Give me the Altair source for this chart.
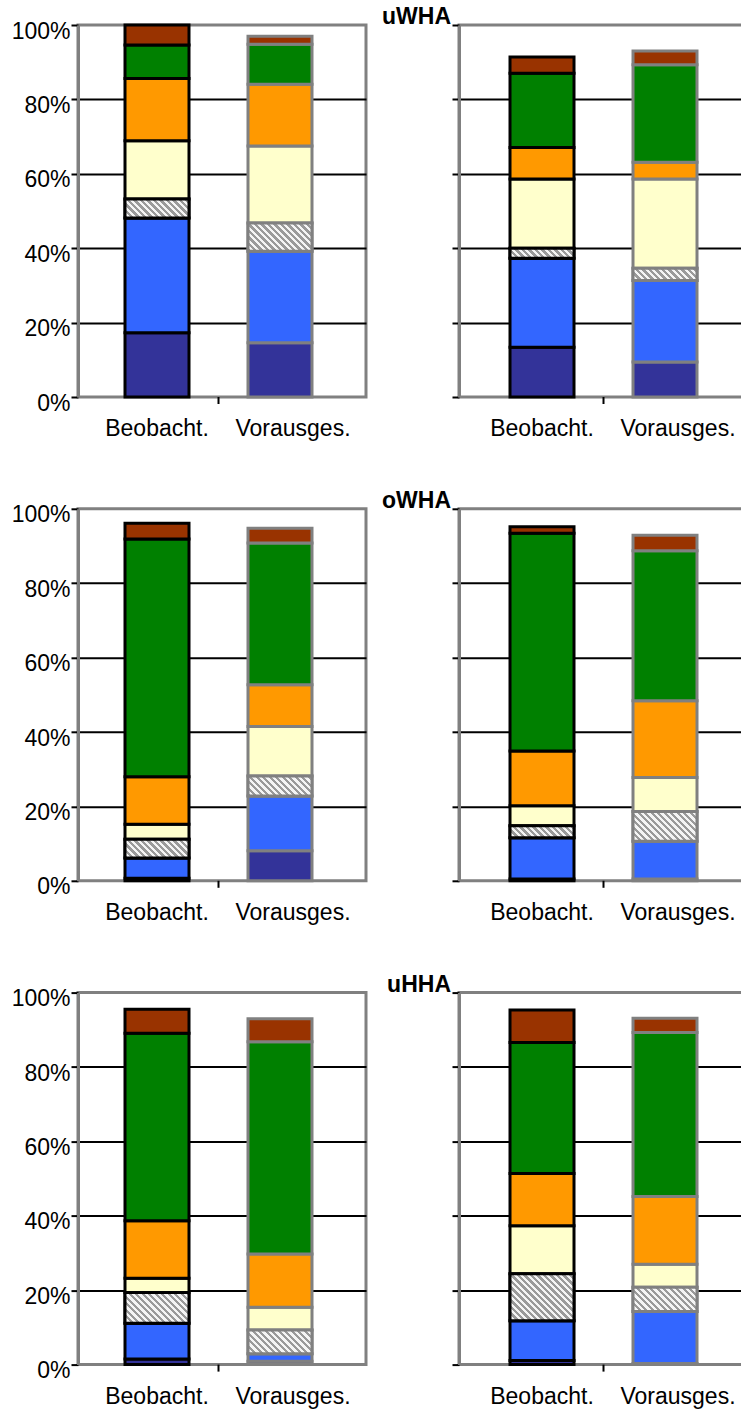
import altair as alt
import pandas as pd

# Stacked shares (percent), listed bottom -> top for each column.
CATEGORIES = ["Beobacht.", "Vorausges."]
CLASSES = ["k1", "k2", "k3", "k4", "k5", "k6", "k7"]
CLASS_COLORS = ["#333399", "#3366FF", "#B8B8B8", "#FFFFCC", "#FF9900", "#008000", "#993300"]
HATCHED_INDEX = 2
GROUP_TITLES = ["uWHA", "oWHA", "uHHA"]
Y_TICKS = [0, 20, 40, 60, 80, 100]

uwha_left_beo = [17.3, 30.8, 5.1, 15.7, 16.7, 9.0, 5.4]
uwha_left_vor = [14.6, 24.6, 7.6, 20.7, 16.6, 10.7, 2.2]
uwha_right_beo = [13.4, 23.9, 2.7, 18.6, 8.5, 19.9, 4.4]
uwha_right_vor = [9.4, 21.9, 3.3, 24.0, 4.5, 26.2, 3.7]

owha_left_beo = [0.7, 5.4, 5.1, 4.0, 12.8, 63.9, 4.2]
owha_left_vor = [8.1, 14.7, 5.4, 13.3, 11.2, 38.1, 4.0]
owha_right_beo = [0.5, 11.1, 3.2, 5.4, 14.7, 58.5, 1.8]
owha_right_vor = [0.5, 10.1, 8.0, 9.2, 20.6, 40.3, 4.2]

uhha_left_beo = [1.5, 9.6, 8.3, 3.8, 15.5, 50.4, 6.4]
uhha_left_vor = [0.9, 2.0, 6.4, 6.1, 14.3, 57.1, 6.2]
uhha_right_beo = [1.1, 10.7, 12.6, 12.9, 14.1, 35.2, 8.7]
uhha_right_vor = [0.3, 14.0, 6.5, 6.2, 18.2, 44.1, 3.8]

PANELS = [
    [(uwha_left_beo, uwha_left_vor), (uwha_right_beo, uwha_right_vor)],
    [(owha_left_beo, owha_left_vor), (owha_right_beo, owha_right_vor)],
    [(uhha_left_beo, uhha_left_vor), (uhha_right_beo, uhha_right_vor)],
]

PLOT_W = 288
PLOT_H = 372
BAR_W = 64
FRAME = "#808080"
FONT = "Liberation Sans"
BAR_STROKES = ["black", FRAME]
BAND_ALIGN = [0.4167, 0.512]
LABEL_SHIFT = [0, 13]


def hatch_gradient(h, w=BAR_W, period=6.5, dark="#9a9a9a", light="#f4f4f4"):
    """Diagonal stripes built from a bounding-box linear gradient."""
    span = w + h
    s = span / (w * w + h * h)
    stops = []
    pos = 0.0
    while pos < span:
        a = pos / span
        b = min((pos + period / 2) / span, 1.0)
        c = min((pos + period) / span, 1.0)
        stops += [
            {"offset": a, "color": dark},
            {"offset": b, "color": dark},
            {"offset": b, "color": light},
            {"offset": c, "color": light},
        ]
        pos += period
    return {"gradient": "linear", "x1": 0, "y1": 1, "x2": w * s, "y2": 1 - h * s, "stops": stops}


def panel(r, c):
    columns = PANELS[r][c]
    rows = []
    for cat, vals in zip(CATEGORIES, columns):
        for i, (cls, v) in enumerate(zip(CLASSES, vals)):
            rows.append({"cat": cat, "cls": cls, "idx": i, "value": v})
    df = pd.DataFrame(rows)

    xs = alt.Scale(domain=CATEGORIES, paddingInner=0, paddingOuter=0.17073, align=BAND_ALIGN[c])
    x_axis = alt.Axis(
        title=None, labels=False, ticks=False, domain=True,
        domainColor=FRAME, domainWidth=3,
    )
    y_axis = alt.Axis(
        title=None, values=Y_TICKS, labels=(c == 0), labelExpr="datum.value + '%'",
        labelFont=FONT, labelFontSize=23, labelColor="black", labelPadding=1,
        labelBaseline="middle", labelOffset=6,
        ticks=True, tickColor="black", tickWidth=2, tickSize=7,
        domain=True, domainColor=FRAME, domainWidth=3,
        grid=True, gridColor="black", gridWidth=2,
        gridOpacity={"condition": {"test": "datum.value == 0 || datum.value == 100", "value": 0}, "value": 1},
    )
    x = alt.X("cat:N", scale=xs, axis=x_axis, sort=CATEGORIES)
    y = alt.Y("v0:Q", scale=alt.Scale(domain=[0, 100], nice=False, zero=True), axis=y_axis)

    base = alt.Chart(df).transform_stack(
        stack="value", groupby=["cat"], as_=["v0", "v1"],
        sort=[alt.SortField("idx", order="ascending")],
    )
    bars = base.mark_bar(width=BAR_W, strokeWidth=3).encode(
        x=x, y=y, y2="v1:Q",
        fill=alt.Fill("cls:N", scale=alt.Scale(domain=CLASSES, range=CLASS_COLORS), legend=None),
        stroke=alt.Stroke("cat:N", scale=alt.Scale(domain=CATEGORIES, range=BAR_STROKES), legend=None),
    )
    layers = [bars]

    hatched = CLASSES[HATCHED_INDEX]
    for cat, vals, stroke in zip(CATEGORIES, columns, BAR_STROKES):
        h = vals[HATCHED_INDEX] * PLOT_H / 100.0
        layers.append(
            base.transform_filter(f"datum.cls == '{hatched}' && datum.cat == '{cat}'")
            .mark_bar(width=BAR_W, strokeWidth=3, stroke=stroke, fill=hatch_gradient(h))
            .encode(x=x, y=y, y2="v1:Q")
        )

    # category labels under the axis
    for cat, shift in zip(CATEGORIES, LABEL_SHIFT):
        layers.append(
            alt.Chart(pd.DataFrame({"cat": [cat]})).mark_text(
                align="center", baseline="top", font=FONT, fontSize=23,
                color="black", dx=shift,
            ).encode(
                x=alt.X("cat:N", scale=xs, axis=None),
                y=alt.value(PLOT_H + 21),
                text="cat:N",
            )
        )

    # category separator tick below the axis
    sep = alt.Chart(pd.DataFrame({"cat": [CATEGORIES[1]]})).mark_rule(
        color="black", strokeWidth=2
    ).encode(
        x=alt.X("cat:N", scale=xs, axis=None, bandPosition=0),
        y=alt.value(PLOT_H),
        y2=alt.value(PLOT_H + 7),
    )
    layers.append(sep)

    if c == 1:
        title = alt.Chart(pd.DataFrame({"t": [GROUP_TITLES[r]]})).mark_text(
            align="right", baseline="alphabetic", font=FONT, fontWeight="bold",
            fontSize=23, color="black",
        ).encode(text="t:N", x=alt.value(-8), y=alt.value(-1))
        layers.append(title)

    return alt.layer(*layers).properties(width=PLOT_W, height=PLOT_H)


chart = alt.concat(
    *[panel(r, c) for r in range(3) for c in range(2)],
    columns=2,
    spacing=alt.RowColnumber(row=111.8, column=93),
    bounds="flush",
).properties(
    autosize=alt.AutoSizeParams(type="none"),
    padding={"left": 78, "top": 25, "right": 663, "bottom": 1385},
).configure_view(
    stroke=FRAME, strokeWidth=3
)

chart.save("out.html", embed_options={"renderer": "svg", "actions": False})
